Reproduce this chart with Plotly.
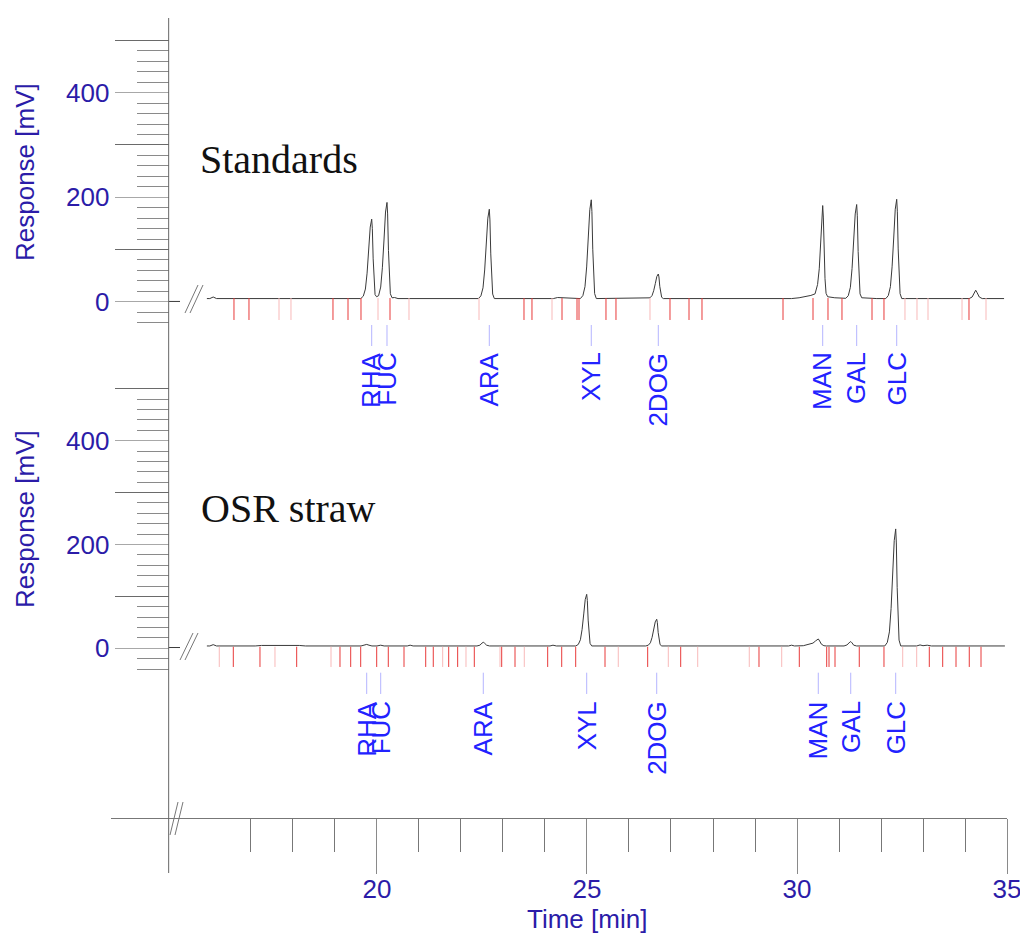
import plotly.graph_objects as go

# ---------------- data ----------------
# Standards chromatogram: (time [min], response [mV]); None marks the axis break
std_points = [
    (15.04, 0.5), (15.31, 0.5), (None, None),
    (15.95, 6), (16.02, 6), (16.10, 9), (16.18, 6), (17.50, 6),
    (19.614, 6), (19.674, 10.6), (19.724, 24.2), (19.764, 54.6), (19.804, 100.2),
    (19.839, 142.8), (19.874, 158), (19.889, 139.8), (19.909, 82), (19.929, 36.4),
    (19.954, 13.6), (19.99, 9.5), (20.038, 11.5), (20.088, 28), (20.128, 64.9),
    (20.168, 120), (20.203, 171.6), (20.238, 190), (20.253, 168), (20.273, 98),
    (20.293, 42.8), (20.318, 15.2), (20.358, 7.5), (20.42, 8), (20.50, 6),
    (22.414, 6), (22.474, 11.1), (22.524, 26.5), (22.564, 60.7), (22.604, 112),
    (22.639, 159.9), (22.674, 177), (22.689, 156.5), (22.709, 91.5), (22.729, 40.2),
    (22.754, 14.6), (22.794, 6),
    (24.20, 6), (24.30, 8), (24.42, 7.5), (24.50, 6),
    (24.842, 6), (24.902, 11.7), (24.952, 28.7), (24.992, 66.5), (25.032, 123.2),
    (25.067, 176.1), (25.102, 195), (25.117, 172.3), (25.137, 100.5), (25.157, 43.8),
    (25.182, 15.5), (25.222, 6),
    (26.438, 6), (26.498, 7.4), (26.548, 11.6), (26.588, 21), (26.628, 35.1),
    (26.663, 48.3), (26.698, 53), (26.713, 47.4), (26.733, 29.5), (26.753, 15.4),
    (26.778, 8.4), (26.818, 6),
    (29.87, 6), (30.05, 7.5), (30.20, 9.5), (30.33, 12), (30.43, 15), (30.49, 33),
    (30.53, 63), (30.57, 112), (30.595, 160), (30.612, 184), (30.627, 162),
    (30.647, 95), (30.667, 44), (30.692, 16), (30.73, 9.5), (30.90, 7.5), (31.05, 7),
    (31.161, 6.5), (31.221, 11.4), (31.271, 27.6), (31.311, 63.6), (31.351, 117.6),
    (31.386, 168), (31.421, 186), (31.436, 164.4), (31.456, 96), (31.476, 42),
    (31.501, 15), (31.541, 7.5), (31.70, 6.5), (31.90, 6),
    (32.114, 6), (32.174, 11.7), (32.224, 28.8), (32.264, 66.8), (32.304, 123.8),
    (32.339, 177), (32.374, 196), (32.389, 173.2), (32.409, 101), (32.429, 44),
    (32.454, 15.5), (32.494, 6),
    (34.10, 6), (34.17, 9), (34.22, 17), (34.255, 22), (34.29, 17), (34.34, 9),
    (34.41, 6), (34.93, 6),
]

# OSR straw chromatogram
osr_points = [
    (15.04, 1.5), (15.31, 1.5), (None, None),
    (15.95, 4.5), (16.02, 4.5), (16.10, 7), (16.18, 4.5),
    (17.10, 4.5), (17.25, 5.5), (18.15, 5.5), (18.30, 4.5),
    (19.62, 4.5), (19.70, 6), (19.755, 7.5), (19.81, 6), (19.88, 4.5),
    (20.00, 4.5), (20.088, 6), (20.17, 4.5),
    (20.72, 4.5), (20.79, 6), (20.86, 4.5),
    (22.38, 4.5), (22.45, 6), (22.50, 10), (22.531, 11.6), (22.56, 10), (22.61, 6),
    (22.68, 4.5),
    (24.12, 4.5), (24.19, 6), (24.27, 4.5),
    (24.733, 4.5), (24.793, 7.5), (24.843, 16.4), (24.883, 36.3), (24.923, 66.2),
    (24.958, 94), (24.993, 104), (25.008, 92), (25.028, 54.3), (25.048, 24.4),
    (25.073, 9.5), (25.113, 4.5),
    (26.40, 4.5), (26.46, 6), (26.51, 10.7), (26.55, 21), (26.59, 36.4),
    (26.625, 50.9), (26.66, 56), (26.675, 49.8), (26.695, 30.3), (26.715, 14.8),
    (26.74, 7.1), (26.78, 4.5),
    (29.80, 4.5), (29.87, 6), (29.94, 4.5), (30.15, 5), (30.28, 7), (30.38, 10),
    (30.44, 14), (30.47, 16.5), (30.507, 18), (30.54, 14), (30.58, 8), (30.64, 5),
    (30.70, 4.5),
    (31.12, 4.5), (31.19, 6.5), (31.24, 10.5), (31.279, 13), (31.31, 10.5),
    (31.35, 6), (31.42, 4.5),
    (32.09, 4.5), (32.15, 11.3), (32.20, 31.6), (32.24, 76.7), (32.28, 144.3),
    (32.315, 207.5), (32.35, 230), (32.365, 203), (32.385, 117.3), (32.405, 49.6),
    (32.43, 15.8), (32.47, 4.5),
    (32.85, 4.5), (32.93, 6.5), (33.00, 5), (33.10, 6), (33.20, 4.5),
    (34.95, 4.5),
]

peak_names = ["RHA", "FUC", "ARA", "XYL", "2DOG", "MAN", "GAL", "GLC"]
std_peak_rt = [19.874, 20.238, 22.674, 25.102, 26.698, 30.612, 31.421, 32.374]
osr_peak_rt = [19.755, 20.088, 22.531, 24.993, 26.660, 30.507, 31.279, 32.350]

# integration events (time [min], faint flag)
std_events = [
    (16.595, 0), (16.952, 0), (17.667, 1), (17.952, 1), (18.952, 0), (19.310, 0),
    (19.619, 0), (20.024, 1), (20.310, 0), (20.762, 1), (22.429, 1), (23.500, 0),
    (23.690, 0), (24.167, 1), (24.405, 0), (24.762, 0), (24.810, 0), (25.452, 0),
    (25.690, 0), (26.500, 1), (26.976, 0), (27.429, 0), (27.738, 0), (29.667, 0),
    (30.381, 0), (30.738, 0), (31.071, 0), (31.786, 0), (32.071, 0), (32.571, 1),
    (32.857, 1), (33.119, 1), (33.929, 1), (34.095, 0), (34.500, 1),
]
osr_events = [
    (16.245, 1), (16.579, 0), (17.214, 0), (17.571, 1), (18.088, 0), (18.905, 1),
    (19.119, 0), (19.374, 0), (19.612, 0), (19.993, 0), (20.269, 0), (20.643, 0),
    (21.160, 0), (21.340, 0), (21.564, 1), (21.707, 0), (21.921, 0), (22.119, 1),
    (22.317, 0), (22.929, 1), (22.969, 0), (23.286, 0), (23.507, 1), (24.064, 0),
    (24.398, 0), (24.731, 0), (25.429, 0), (25.745, 1), (26.445, 0), (26.936, 1),
    (27.231, 0), (27.636, 1), (28.864, 1), (29.095, 0), (29.636, 1), (30.055, 0),
    (30.707, 0), (30.762, 0), (30.905, 0), (31.483, 0), (32.071, 0), (32.517, 1),
    (32.850, 1), (33.150, 0), (33.469, 0), (33.786, 0), (34.102, 0), (34.381, 0),
]

y_labelled = [0, 200, 400]
y_labelled_text = ["0", "200", "400"]
y_long = [100, 300, 500]
y_minor = [v for v in range(-40, 501, 20) if v % 100 != 0]
x_major = [20, 25, 30, 35]
x_minor = list(range(17, 35))

# ---------------- layout helpers ----------------
W, H = 1020, 936
ML, MR = 111, 13
X_RANGE = [13.667, 35.0]
T_AXIS = 15.04
NAVY = "#2b1ca8"
BLUE = "#2222ff"
FONT = "Liberation Sans"


def px_x(px):
    return (px - ML) / (W - ML - MR)


def px_y(py):
    return 1 - py / H


def y_range(zero_py, scale, top_py, bot_py):
    return [(zero_py - bot_py) / scale, (zero_py - top_py) / scale]


TOP = dict(zero=301.7, scale=0.5225, top=10, bot=460)
BOT = dict(zero=648.3, scale=0.519, top=360, bot=810)

fig = go.Figure()


def add_panel(points, events, rts, yref, ev_top, ev_bot, lab_top, lab_bot):
    t = [p[0] for p in points]
    v = [p[1] for p in points]
    fig.add_trace(go.Scatter(x=t, y=v, mode="lines", yaxis=yref, connectgaps=False,
                             line=dict(color="#3a3a3a", width=1), showlegend=False,
                             hoverinfo="skip"))
    for faint, color in ((1, "#f8b9b9"), (0, "#e83a3a")):
        ex, ey = [], []
        for et, f in events:
            if f == faint:
                ex += [et, et, None]
                ey += [ev_top, ev_bot, None]
        fig.add_trace(go.Scatter(x=ex, y=ey, mode="lines", yaxis=yref,
                                 line=dict(color=color, width=1), showlegend=False,
                                 hoverinfo="skip"))
    lx, ly = [], []
    for rt in rts:
        lx += [rt, rt, None]
        ly += [lab_top, lab_bot, None]
    fig.add_trace(go.Scatter(x=lx, y=ly, mode="lines", yaxis=yref,
                             line=dict(color="#b4b4ff", width=1), showlegend=False,
                             hoverinfo="skip"))


add_panel(std_points, std_events, std_peak_rt, "y", 7, -35, -44.6, -84.8)
add_panel(osr_points, osr_events, osr_peak_rt, "y2", 3, -36, -47, -88)
# empty traces so the overlay tick axes get their own subplots
for yref in ("y3", "y4"):
    fig.add_trace(go.Scatter(x=[None], y=[None], mode="lines", yaxis=yref,
                             showlegend=False, hoverinfo="skip"))

annotations = []
for name, rt in zip(peak_names, std_peak_rt):
    annotations.append(dict(x=rt, y=-93, xref="x", yref="y", text=name, textangle=-90,
                            showarrow=False, xanchor="center", yanchor="top",
                            font=dict(family=FONT, size=26, color=BLUE)))
for name, rt in zip(peak_names, osr_peak_rt):
    annotations.append(dict(x=rt, y=-98, xref="x", yref="y2", text=name, textangle=-90,
                            showarrow=False, xanchor="center", yanchor="top",
                            font=dict(family=FONT, size=26, color=BLUE)))

# panel captions
annotations.append(dict(x=px_x(198), y=px_y(159), xref="paper", yref="paper",
                        text="Standards", showarrow=False, xanchor="left", yanchor="middle",
                        font=dict(family="Liberation Serif", size=40, color="#111111")))
annotations.append(dict(x=px_x(199), y=px_y(509), xref="paper", yref="paper",
                        text="OSR straw", showarrow=False, xanchor="left", yanchor="middle",
                        font=dict(family="Liberation Serif", size=40, color="#111111")))
# axis titles
for cy in (172, 519):
    annotations.append(dict(x=px_x(25), y=px_y(cy), xref="paper", yref="paper",
                            text="Response [mV]", textangle=-90, showarrow=False,
                            xanchor="center", yanchor="middle",
                            font=dict(family=FONT, size=26, color=NAVY)))
annotations.append(dict(x=25, y=px_y(919), xref="x", yref="paper", text="Time [min]",
                        showarrow=False, xanchor="center", yanchor="middle",
                        font=dict(family=FONT, size=26, color=NAVY)))

# axis break marks and the vertical axis line
shapes = [dict(type="line", xref="x", yref="paper", x0=T_AXIS, x1=T_AXIS,
               y0=px_y(873), y1=px_y(18), line=dict(color="#666666", width=1))]
for (xa, ya, xb, yb) in [(185, 313, 198, 285), (190, 313, 203, 285),
                         (180, 660, 193, 633), (185, 660, 198, 633),
                         (170, 835, 178, 802), (175, 835, 183, 802)]:
    shapes.append(dict(type="line", xref="paper", yref="paper",
                       x0=px_x(xa), y0=px_y(ya), x1=px_x(xb), y1=px_y(yb),
                       line=dict(color="#777777", width=1)))


def y_axis(domain_py, rng):
    return dict(
        domain=[px_y(domain_py[1]), px_y(domain_py[0])], range=rng,
        anchor="free", position=px_x(168.6), side="left",
        showline=False, zeroline=False, showgrid=False,
        tickmode="array", tickvals=y_labelled, ticktext=y_labelled_text,
        ticks="outside", ticklen=54, tickwidth=1, tickcolor="#a8a8a8",
        tickfont=dict(family=FONT, size=26, color=NAVY),
        minor=dict(tickmode="array", tickvals=y_minor, ticks="outside", ticklen=32,
                   tickwidth=1, tickcolor="#8a8a8a", showgrid=False),
        fixedrange=True,
    )


def y_long_axis(base, rng):
    # unlabelled long ticks at the odd hundreds
    return dict(
        overlaying=base, range=rng, anchor="free", position=px_x(168.6), side="left",
        showline=False, zeroline=False, showgrid=False, showticklabels=False,
        tickmode="array", tickvals=y_long, ticks="outside", ticklen=54,
        tickwidth=1, tickcolor="#6a6a6a", fixedrange=True,
    )


top_rng = y_range(TOP["zero"], TOP["scale"], TOP["top"], TOP["bot"])
bot_rng = y_range(BOT["zero"], BOT["scale"], BOT["top"], BOT["bot"])

fig.update_layout(
    width=W, height=H, autosize=False,
    margin=dict(l=ML, r=MR, t=0, b=0, pad=0),
    plot_bgcolor="white", paper_bgcolor="white",
    showlegend=False,
    xaxis=dict(
        range=X_RANGE, domain=[0, 1], anchor="free", position=px_y(818),
        showline=True, linecolor="#777777", linewidth=1,
        zeroline=False, showgrid=False,
        tickmode="array", tickvals=x_major, ticks="outside", ticklen=55,
        tickwidth=1, tickcolor="#8a8a8a", ticklabeloverflow="allow",
        ticklabelstandoff=-7,
        tickfont=dict(family=FONT, size=26, color=NAVY),
        minor=dict(tickmode="array", tickvals=x_minor, ticks="outside", ticklen=33,
                   tickwidth=1, tickcolor="#777777", showgrid=False),
        fixedrange=True,
    ),
    yaxis=y_axis((TOP["top"], TOP["bot"]), top_rng),
    yaxis2=y_axis((BOT["top"], BOT["bot"]), bot_rng),
    yaxis3=y_long_axis("y", top_rng),
    yaxis4=y_long_axis("y2", bot_rng),
    annotations=annotations,
    shapes=shapes,
)

fig.write_html("out.html", config={"displayModeBar": False})
